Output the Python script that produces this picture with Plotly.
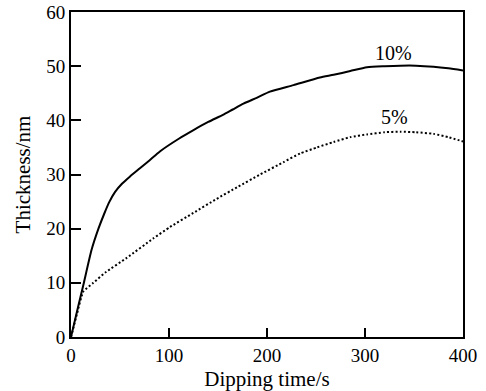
import plotly.graph_objects as go

# 10% series
t10 = [0, 6, 12.6, 21, 28, 34, 39, 45, 52, 60, 70, 80, 91, 110, 125, 140, 155, 165, 176, 190, 203, 227, 254, 268, 285, 302, 320, 336, 352, 370, 385, 400]
v10 = [0, 4.6, 9.6, 16.1, 20.0, 22.8, 24.9, 26.8, 28.3, 29.6, 31.1, 32.6, 34.3, 36.6, 38.2, 39.7, 41.0, 42.0, 43.1, 44.2, 45.3, 46.5, 47.9, 48.4, 49.1, 49.8, 50.0, 50.1, 50.1, 49.9, 49.6, 49.2]

# 5% series
t5 = [0, 6, 12.6, 22.8, 35, 56.8, 84, 101, 124.8, 148.6, 170, 193, 217, 234, 251, 268, 285, 302, 320, 336, 352, 370, 385, 400]
v5 = [0, 4.2, 8.4, 10.0, 11.9, 14.6, 18.2, 20.3, 22.9, 25.5, 27.7, 30.0, 32.3, 33.9, 35.0, 36.0, 36.9, 37.4, 37.8, 37.9, 37.8, 37.5, 36.9, 36.1]

labels = ["10%", "5%"]
label_x = [328.6, 330]
label_y = [52.4, 40.6]

x_ticks = [0, 100, 200, 300, 400]
y_ticks = [0, 10, 20, 30, 40, 50, 60]

FONT = "Liberation Serif, Times New Roman, serif"
TICK_FS = 19
TITLE_FS = 21
LABEL_FS = 20

fig = go.Figure()
fig.add_trace(go.Scatter(x=t10, y=v10, mode="lines",
                         line=dict(color="black", width=2, shape="spline", smoothing=0.6),
                         showlegend=False, hoverinfo="skip"))
fig.add_trace(go.Scatter(x=t5, y=v5, mode="lines",
                         line=dict(color="black", width=2, dash="2px,2.2px", shape="spline", smoothing=0.5),
                         showlegend=False, hoverinfo="skip"))

for lab, lx, ly in zip(labels, label_x, label_y):
    fig.add_annotation(x=lx, y=ly, text=lab, showarrow=False,
                       font=dict(family=FONT, size=LABEL_FS, color="black"))

fig.update_layout(
    width=486, height=391,
    margin=dict(l=71, r=23, t=12, b=54),
    paper_bgcolor="white", plot_bgcolor="white",
    font=dict(family=FONT, size=TICK_FS, color="black"),
    xaxis=dict(range=[0, 400], tickvals=x_ticks, ticks="inside", ticklen=9, tickwidth=2,
               tickcolor="black", showline=True, linecolor="black", linewidth=2, mirror=True,
               showgrid=False, zeroline=False, automargin=False, ticklabeloverflow="allow",
               title=dict(text="Dipping time/s", standoff=7, font=dict(size=TITLE_FS)),
               tickfont=dict(size=TICK_FS)),
    yaxis=dict(range=[0, 60], tickvals=y_ticks, ticks="inside", ticklen=10, tickwidth=2,
               tickcolor="black", showline=True, linecolor="black", linewidth=2, mirror=True,
               showgrid=False, zeroline=False, automargin=False, ticklabeloverflow="allow",
               title=dict(text="Thickness/nm", standoff=10, font=dict(size=TITLE_FS)),
               tickfont=dict(size=TICK_FS)),
)

fig.write_html("out.html", config={"displayModeBar": False},
               post_script="document.body.style.margin='0px';")
